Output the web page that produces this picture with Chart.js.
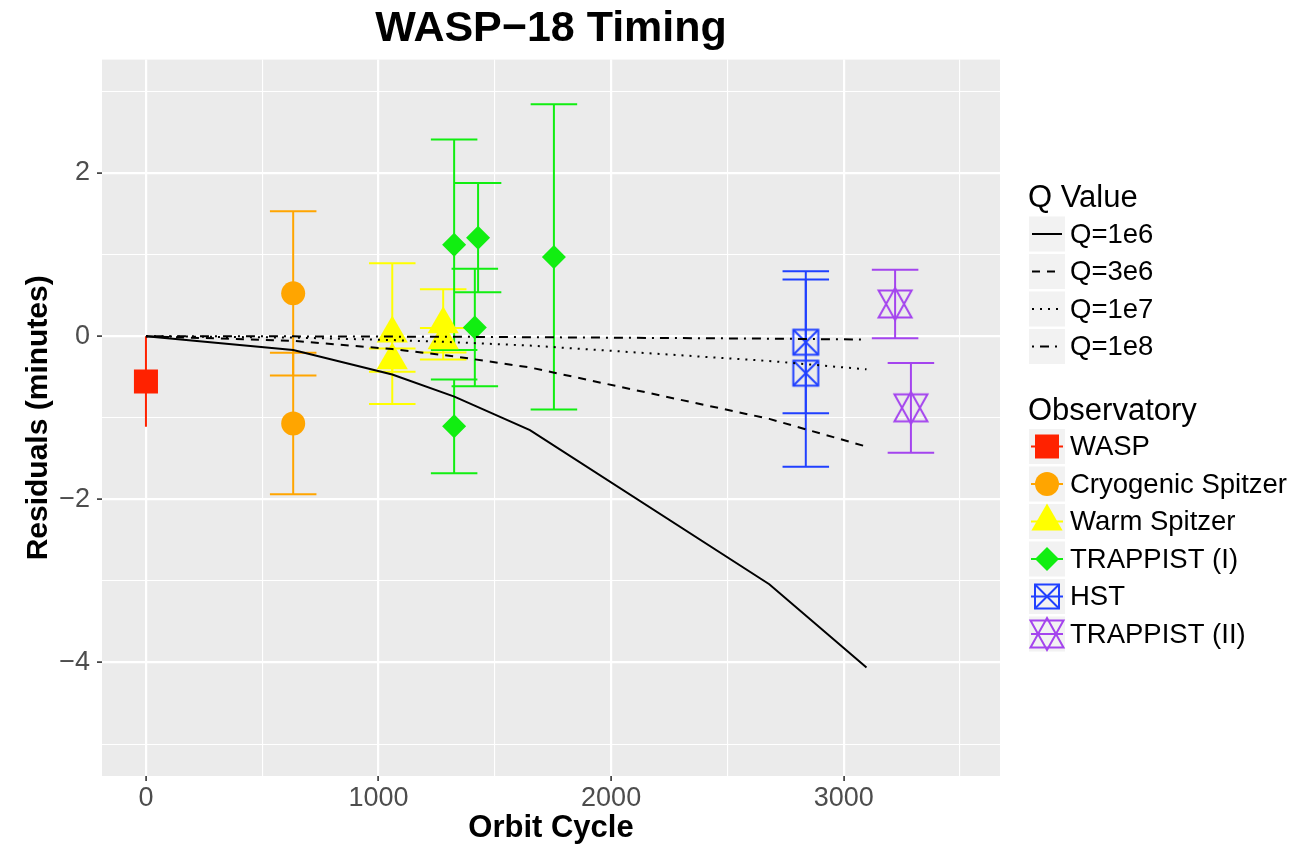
<!DOCTYPE html>
<html>
<head>
<meta charset="utf-8">
<script src="https://cdn.jsdelivr.net/npm/chart.js@4.4.0/dist/chart.umd.min.js"></script>
<style>
html, body { margin: 0; padding: 0; background: #ffffff; }
#wrap { width: 1297px; height: 849px; position: relative; }
</style>
</head>
<body>
<div id="wrap"><canvas id="c" width="1297" height="849"></canvas></div>
<script>
const FONT = '"Liberation Sans", Arial, Helvetica, sans-serif';

// ---- Observations: orbit cycle, timing residual (minutes), 1-sigma error ----
const waspCycle = [0];
const waspResid = [-0.555];
const waspErr   = [0.555];

const cryoCycle = [633, 633];
const cryoResid = [0.525, -1.07];
const cryoErr   = [1.006, 0.866];

const warmCycle = [1059, 1059, 1278, 1278];
const warmResid = [0.032, -0.294, 0.145, -0.05];
const warmErr   = [0.862, 0.143, 0.43, 0.15];

const trap1Cycle = [1325, 1325, 1414, 1428, 1754];
const trap1Resid = [1.12, -1.105, 0.108, 1.208, 0.972];
const trap1Err   = [1.29, 0.575, 0.72, 0.669, 1.87];

const hstCycle = [2837, 2837];
const hstResid = [-0.074, -0.453];
const hstErr   = [0.87, 1.147];

const trap2Cycle = [3221, 3289];
const trap2Resid = [0.395, -0.878];
const trap2Err   = [0.42, 0.551];

// ---- Tidal decay models ----
const modelCycle = [0, 633, 1059, 1326, 1651, 2680, 3098];
const q1e6 = [0, -0.17, -0.47, -0.74, -1.15, -3.04, -4.06];
const q3e6 = [0, -0.057, -0.157, -0.247, -0.383, -1.013, -1.353];
const q1e7 = [0, -0.017, -0.047, -0.074, -0.115, -0.304, -0.406];
const q1e8 = [0, -0.002, -0.005, -0.007, -0.012, -0.030, -0.041];

// ---- Ticks and labels ----
const xMajorTicks = [0, 1000, 2000, 3000];
const xMinorTicks = [500, 1500, 2500, 3500];
const yMajorTicks = [-4, -2, 0, 2];
const yMinorTicks = [-5, -3, -1, 1, 3];
const qLabels   = ['Q=1e6', 'Q=3e6', 'Q=1e7', 'Q=1e8'];
const obsLabels = ['WASP', 'Cryogenic Spitzer', 'Warm Spitzer', 'TRAPPIST (I)', 'HST', 'TRAPPIST (II)'];

// ---- marker glyphs ----
function makeMarker(w, h, draw) {
  const c = document.createElement('canvas');
  c.width = w; c.height = h;
  draw(c.getContext('2d'), w / 2, h / 2);
  return c;
}
function drawBoxX(g, cx, cy, s, color) {
  g.strokeStyle = color; g.lineWidth = 2;
  g.strokeRect(cx - s / 2, cy - s / 2, s, s);
  g.beginPath();
  g.moveTo(cx - s / 2, cy - s / 2); g.lineTo(cx + s / 2, cy + s / 2);
  g.moveTo(cx + s / 2, cy - s / 2); g.lineTo(cx - s / 2, cy + s / 2);
  g.stroke();
}
function drawStar(g, cx, cy, color) {
  const hw = 16.5, r = 16, b = 13.5;
  g.strokeStyle = color; g.lineWidth = 2; g.lineJoin = 'miter';
  g.beginPath();
  g.moveTo(cx, cy - r); g.lineTo(cx + hw, cy + b); g.lineTo(cx - hw, cy + b); g.closePath();
  g.moveTo(cx, cy + r); g.lineTo(cx + hw, cy - b); g.lineTo(cx - hw, cy - b); g.closePath();
  g.stroke();
}
const COLORS = ['#ff2200', '#ffa500', '#ffff00', '#11ee11', '#2040ff', '#a444ee'];
const hstMarker  = makeMarker(30, 30, (g, cx, cy) => drawBoxX(g, cx, cy, 25, COLORS[4]));
const starMarker = makeMarker(38, 38, (g, cx, cy) => drawStar(g, cx, cy, COLORS[5]));

function pts(xs, ys) { return xs.map((x, i) => ({ x: x, y: ys[i] })); }

const obsDefs = [
  { cyc: waspCycle,  res: waspResid,  err: waspErr,  style: 'rect',     r: 17, cap: 0 },
  { cyc: cryoCycle,  res: cryoResid,  err: cryoErr,  style: 'circle',   r: 12, cap: 200 },
  { cyc: warmCycle,  res: warmResid,  err: warmErr,  style: 'triangle', r: 18, cap: 200 },
  { cyc: trap1Cycle, res: trap1Resid, err: trap1Err, style: 'rectRot',  r: 12, cap: 200 },
  { cyc: hstCycle,   res: hstResid,   err: hstErr,   style: hstMarker,  r: 12, cap: 200 },
  { cyc: trap2Cycle, res: trap2Resid, err: trap2Err, style: starMarker, r: 12, cap: 200 }
];

const obsDatasets = obsDefs.map((d, i) => ({
  type: 'scatter',
  label: obsLabels[i],
  data: pts(d.cyc, d.res),
  err: d.err,
  capWidth: d.cap,
  barColor: COLORS[i],
  pointStyle: d.style,
  pointRadius: d.r,
  pointHoverRadius: d.r,
  pointBackgroundColor: COLORS[i],
  pointBorderColor: COLORS[i],
  pointBorderWidth: 0,
  showLine: false,
  order: 2
}));

const qSeries = [q1e6, q3e6, q1e7, q1e8];
const qDashes = [[], [8, 7], [2, 6], [2, 6, 9, 6]];
const lineDatasets = qSeries.map((s, i) => ({
  type: 'scatter',
  label: qLabels[i],
  data: pts(modelCycle, s),
  showLine: true,
  borderColor: '#000000',
  borderWidth: 2,
  borderDash: qDashes[i],
  borderCapStyle: 'butt',
  pointRadius: 0,
  pointHoverRadius: 0,
  fill: false,
  tension: 0,
  order: 0
}));

// ---- plugins ----
const panelPlugin = {
  id: 'panel',
  beforeDraw(chart) {
    const { ctx, chartArea: a } = chart;
    ctx.save();
    ctx.fillStyle = '#ffffff';
    ctx.fillRect(0, 0, chart.width, chart.height);
    ctx.fillStyle = '#ebebeb';
    ctx.fillRect(a.left, a.top, a.right - a.left, a.bottom - a.top);
    ctx.restore();
  }
};

const errorBarPlugin = {
  id: 'errorBars',
  beforeDatasetsDraw(chart) {
    const { ctx, chartArea: a, scales: { x, y } } = chart;
    ctx.save();
    ctx.beginPath();
    ctx.rect(a.left, a.top, a.right - a.left, a.bottom - a.top);
    ctx.clip();
    chart.data.datasets.forEach((ds, i) => {
      if (!ds.err || !chart.isDatasetVisible(i)) return;
      ctx.strokeStyle = ds.barColor;
      ctx.lineWidth = 2;
      ctx.lineCap = 'butt';
      ds.data.forEach((p, j) => {
        const e = ds.err[j];
        const px = x.getPixelForValue(p.x);
        const yt = y.getPixelForValue(p.y + e);
        const yb = y.getPixelForValue(p.y - e);
        ctx.beginPath();
        ctx.moveTo(px, yt); ctx.lineTo(px, yb);
        if (ds.capWidth > 0) {
          const xl = x.getPixelForValue(p.x - ds.capWidth / 2);
          const xr = x.getPixelForValue(p.x + ds.capWidth / 2);
          ctx.moveTo(xl, yt); ctx.lineTo(xr, yt);
          ctx.moveTo(xl, yb); ctx.lineTo(xr, yb);
        }
        ctx.stroke();
      });
    });
    ctx.restore();
  }
};

function legendMarker(ctx, i, cx, cy) {
  const c = COLORS[i];
  ctx.fillStyle = c; ctx.strokeStyle = c;
  if (i === 0) { ctx.fillRect(cx - 12, cy - 12, 24, 24); }
  else if (i === 1) { ctx.beginPath(); ctx.arc(cx, cy, 12, 0, Math.PI * 2); ctx.fill(); }
  else if (i === 2) {
    ctx.beginPath(); ctx.moveTo(cx, cy - 18); ctx.lineTo(cx + 15.6, cy + 9); ctx.lineTo(cx - 15.6, cy + 9); ctx.closePath(); ctx.fill();
  } else if (i === 3) {
    ctx.beginPath(); ctx.moveTo(cx - 12, cy); ctx.lineTo(cx, cy - 12); ctx.lineTo(cx + 12, cy); ctx.lineTo(cx, cy + 12); ctx.closePath(); ctx.fill();
  } else if (i === 4) { drawBoxX(ctx, cx, cy, 24, c); }
  else { drawStar(ctx, cx, cy, c); }
}

const legendPlugin = {
  id: 'ggLegend',
  afterDraw(chart) {
    const ctx = chart.ctx;
    ctx.save();
    ctx.textBaseline = 'middle';
    ctx.textAlign = 'left';
    const keyX = 1029, keyW = 36, keyH = 35, textX = 1070, step = 37.5;

    ctx.fillStyle = '#000000';
    ctx.font = '31px ' + FONT;
    ctx.fillText('Q Value', 1028, 198);
    qLabels.forEach((lab, i) => {
      const cy = 234 + i * step;
      ctx.fillStyle = '#f2f2f2';
      ctx.fillRect(keyX, cy - keyH / 2, keyW, keyH);
      ctx.strokeStyle = '#000000'; ctx.lineWidth = 2; ctx.lineCap = 'butt';
      ctx.setLineDash(qDashes[i]);
      ctx.beginPath(); ctx.moveTo(keyX + 3, cy); ctx.lineTo(keyX + keyW - 3, cy); ctx.stroke();
      ctx.setLineDash([]);
      ctx.fillStyle = '#000000';
      ctx.font = '27.5px ' + FONT;
      ctx.fillText(lab, textX, cy + 1);
    });

    ctx.fillStyle = '#000000';
    ctx.font = '31px ' + FONT;
    ctx.fillText('Observatory', 1028, 411);
    obsLabels.forEach((lab, i) => {
      const cy = 446.5 + i * step;
      ctx.fillStyle = '#f2f2f2';
      ctx.fillRect(keyX, cy - keyH / 2, keyW, keyH);
      ctx.strokeStyle = COLORS[i]; ctx.lineWidth = 2;
      ctx.beginPath(); ctx.moveTo(keyX + 2, cy); ctx.lineTo(keyX + keyW - 2, cy); ctx.stroke();
      legendMarker(ctx, i, keyX + keyW / 2, cy);
      ctx.fillStyle = '#000000';
      ctx.font = '27.5px ' + FONT;
      ctx.fillText(lab, textX, cy + 1);
    });
    ctx.restore();
  }
};

function allTicks(a, b) { return a.concat(b).sort((p, q) => p - q).map(v => ({ value: v })); }
function fmtMinus(v) { return String(v).replace('-', '\u2212'); }

new Chart(document.getElementById('c'), {
  type: 'scatter',
  data: { datasets: obsDatasets.concat(lineDatasets) },
  plugins: [panelPlugin, errorBarPlugin, legendPlugin],
  options: {
    responsive: false,
    devicePixelRatio: 1,
    animation: false,
    events: [],
    layout: { padding: { left: 0, right: 297, top: 0, bottom: 0 } },
    plugins: {
      legend: { display: false },
      tooltip: { enabled: false },
      title: {
        display: true,
        text: 'WASP\u221218 Timing',
        fullSize: false,
        color: '#000000',
        font: { family: FONT, size: 43, weight: 'bold' },
        padding: { top: 3, bottom: 5 }
      }
    },
    scales: {
      x: {
        type: 'linear',
        min: -189,
        max: 3672,
        afterBuildTicks: s => { s.ticks = allTicks(xMajorTicks, xMinorTicks); },
        afterFit: s => { s.height = 73; },
        ticks: {
          callback: v => xMajorTicks.includes(v) ? String(v) : '',
          color: '#4d4d4d',
          font: { family: FONT, size: 27 },
          padding: 1,
          autoSkip: false,
          maxRotation: 0,
          minRotation: 0
        },
        grid: {
          color: '#ffffff',
          lineWidth: c => (c.tick && xMajorTicks.includes(c.tick.value)) ? 2.2 : 1.1,
          drawTicks: true,
          tickLength: 5,
          tickWidth: 1.6,
          tickColor: c => (c.tick && xMajorTicks.includes(c.tick.value)) ? '#333333' : 'rgba(0,0,0,0)'
        },
        border: { display: false },
        title: {
          display: true,
          text: 'Orbit Cycle',
          color: '#000000',
          font: { family: FONT, size: 31, weight: 'bold' },
          padding: { top: 0, bottom: 2 }
        }
      },
      y: {
        type: 'linear',
        min: -5.39,
        max: 3.39,
        afterBuildTicks: s => { s.ticks = allTicks(yMajorTicks, yMinorTicks); },
        afterFit: s => { s.width = 102; },
        ticks: {
          callback: v => yMajorTicks.includes(v) ? fmtMinus(v) : '',
          color: '#4d4d4d',
          font: { family: FONT, size: 27 },
          padding: 7,
          autoSkip: false
        },
        grid: {
          color: '#ffffff',
          lineWidth: c => (c.tick && yMajorTicks.includes(c.tick.value)) ? 2.2 : 1.1,
          drawTicks: true,
          tickLength: 5,
          tickWidth: 1.6,
          tickColor: c => (c.tick && yMajorTicks.includes(c.tick.value)) ? '#333333' : 'rgba(0,0,0,0)'
        },
        border: { display: false },
        title: {
          display: true,
          text: 'Residuals (minutes)',
          color: '#000000',
          font: { family: FONT, size: 30, weight: 'bold' },
          padding: { top: 21, bottom: 0 }
        }
      }
    }
  }
});
</script>
</body>
</html>
